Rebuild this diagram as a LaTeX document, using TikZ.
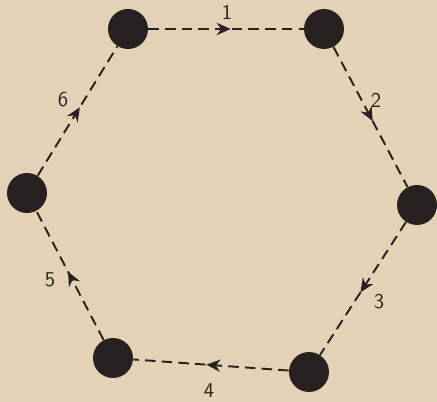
\documentclass[tikz,border=0pt]{standalone}
\usepackage{tikz}
\usetikzlibrary{arrows.meta,decorations.markings}
\definecolor{paper}{HTML}{E4D2B7}
\definecolor{ink}{HTML}{27221F}

\begin{document}
\begin{tikzpicture}[x=0.02cm,y=-0.02cm,font=\sffamily\large,
    stone/.style={circle,fill=ink,draw=none,minimum size=0.8cm,inner sep=0pt},
    move/.style={ink,line width=1.1pt,dash pattern=on 6pt off 3.5pt,
      postaction={decorate},decoration={markings,
        mark=at position 0.53 with {\arrow{Stealth[length=8pt,width=7pt]}}}},
    num/.style={text=ink}]
  \fill[paper] (0,0) rectangle (437,402);
  \useasboundingbox (0,0) rectangle (437,402);
  % hexagon of stones
  \node[stone] (tl) at (128,29) {};
  \node[stone] (tr) at (324,29) {};
  \node[stone] (r) at (417,205) {};
  \node[stone] (br) at (309,372) {};
  \node[stone] (bl) at (113,358) {};
  \node[stone] (l) at (27,193) {};
  % moves, clockwise
  \draw[move] (tl) -- (tr);
  \draw[move] (tr) -- (r);
  \draw[move] (r) -- (br);
  \draw[move] (br) -- (bl);
  \draw[move] (bl) -- (l);
  \draw[move] (l) -- (tl);
  % move numbers
  \node[num] (n1) at (227,12) {1};
  \node[num] (n2) at (376,100) {2};
  \node[num] (n3) at (379,302) {3};
  \node[num] (n4) at (209,391) {4};
  \node[num] (n5) at (50,280) {5};
  \node[num] (n6) at (63,100) {6};
\end{tikzpicture}
\end{document}
